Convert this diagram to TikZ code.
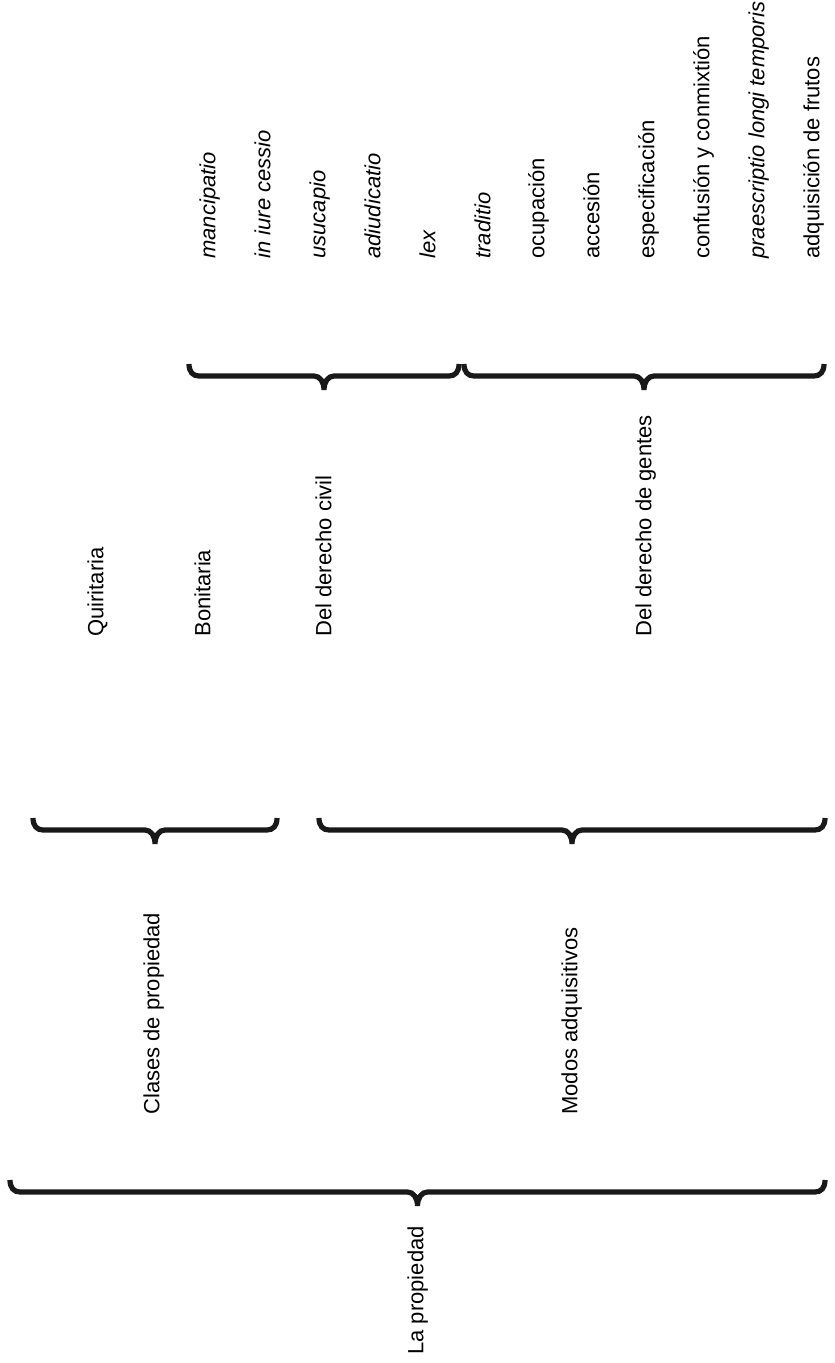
\documentclass[tikz,border=0pt]{standalone}
\usepackage{fontspec}
\setmainfont{Liberation Sans}
\usetikzlibrary{calc}
\newcommand{\propbrace}[2]{%
  \coordinate (#1-m) at ($(#1-r)!.5!(#2-l)$);
  \draw[brc] (#1-r) .. controls +(0,8) and +(6,0) .. ($(#1-r)+(-10,12)$)
    -- ($(#1-m)+(10,12)$) .. controls +(-6,0) and +(0,-8) .. ($(#1-m)+(0,26)$)
    .. controls +(0,-8) and +(6,0) .. ($(#1-m)+(-10,12)$)
    -- ($(#2-l)+(10,12)$) .. controls +(-6,0) and +(0,8) .. (#2-l);}
\begin{document}
\begin{tikzpicture}[x=0.5pt, y=-0.5pt,
  lbl/.style={rotate=90, anchor=mid west, inner sep=0pt, font=\fontsize{11}{13}\selectfont},
  latin/.style={lbl, font=\fontsize{11}{13}\selectfont\itshape},
  brc/.style={line width=2.6pt, black!90}]
\useasboundingbox (0,0) rectangle (834,1363);
\node[lbl] (propiedad) at (418,1355) {La propiedad};
\node[lbl] (clases) at (154,1115) {Clases de propiedad};
\node[lbl] (modos) at (572,1115) {Modos adquisitivos};
\node[lbl] (quiritaria) at (98,637) {Quiritaria};
\node[lbl] (bonitaria) at (205,637) {Bonitaria};
\node[lbl] (civil) at (326,637) {Del derecho civil};
\node[lbl] (gentes) at (646,637) {Del derecho de gentes};
\node[latin] (mancipatio) at (210,259) {mancipatio};
\node[latin] (iure) at (265,259) {in iure cessio};
\node[latin] (usucapio) at (320,259) {usucapio};
\node[latin] (adiudicatio) at (375,259) {adiudicatio};
\node[latin] (lex) at (430,259) {lex};
\node[latin] (traditio) at (485,259) {traditio};
\node[lbl] (ocupacion) at (539,259) {ocupación};
\node[lbl] (accesion) at (594,259) {accesión};
\node[lbl] (especificacion) at (649,259) {especificación};
\node[lbl] (confusion) at (704,259) {confusión y conmixtión};
\node[lbl] (praescriptio) at (759,259) {\itshape praescriptio longi temporis};
\node[lbl] (frutos) at (814,259) {adquisición de frutos};
\coordinate (propiedad-l) at (10,1180);
\coordinate (propiedad-r) at (825,1180);
\coordinate (clases-l) at (33,818);
\coordinate (clases-r) at (277,818);
\coordinate (modos-l) at (319,818);
\coordinate (modos-r) at (825,818);
\coordinate (civil-l) at (189,364);
\coordinate (civil-r) at (459,364);
\coordinate (gentes-l) at (464,364);
\coordinate (gentes-r) at (824,364);
\propbrace{propiedad}{propiedad}
\propbrace{clases}{clases}
\propbrace{modos}{modos}
\propbrace{civil}{civil}
\propbrace{gentes}{gentes}
\end{tikzpicture}
\end{document}
